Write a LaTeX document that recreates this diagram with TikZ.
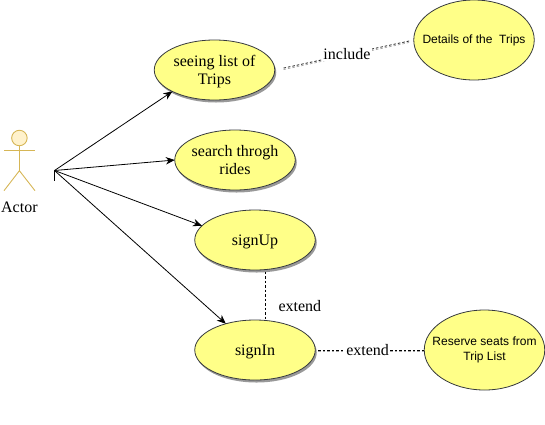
\documentclass[tikz,border=0pt]{standalone}
\usepackage{fontspec}
\setmainfont{Liberation Serif}
\newfontfamily\labelsans{Liberation Sans}
\usepackage{xcolor}
\usepackage{tikz}
\usetikzlibrary{shapes.geometric,arrows.meta,positioning,shadows}
\definecolor{casefill}{HTML}{FFFF88}
\definecolor{casedraw}{HTML}{36393D}
\definecolor{actorfill}{HTML}{FFF2CC}
\definecolor{actordraw}{HTML}{D6B656}

\begin{document}
\begin{tikzpicture}[
			x=1pt, y=1pt,
			usecase/.style={ellipse, draw=casedraw, fill=casefill, line width=0.8pt, inner xsep=-8pt, inner ysep=0pt, outer sep=0pt, minimum width=120.5pt, minimum height=60pt, align=center, font=\fontsize{16}{18.3}\selectfont},
			shadowcase/.style={usecase, text depth=0pt, general shadow={shadow xshift=1.5pt, shadow yshift=-2.5pt, fill=black!40}},
			sidecase/.style={usecase, inner xsep=-12pt, minimum height=80pt, font=\fontsize{12}{14.5}\selectfont\labelsans},
			arr/.style={-{Stealth[length=9pt, width=7.5pt]}, line width=0.8pt},
			limb/.style={draw=actordraw, line width=0.9pt},
			reldash/.style={dash pattern=on 2.5pt off 2pt, line width=0.7pt},
			dashrel/.style={reldash, preaction={draw=black!35, reldash, transform canvas={yshift=-1.5pt}}},
			tag/.style={inner sep=1pt, fill=white, font=\fontsize{16}{18}\selectfont}
			]
			\useasboundingbox (0,0) rectangle (545,-424);
			\node[shadowcase] (seeing) at (214.5,-70) {seeing list of\\Trips};
			\node[shadowcase, below=30pt of seeing, xshift=20.5pt] (search) {search throgh\\rides};
			\node[shadowcase, below=20pt of search, xshift=20pt] (signup) {signUp};
			\node[shadowcase, below=50pt of signup] (signin) {signIn};
			\node[sidecase, right=139pt of seeing, yshift=30pt] (details) {Details of the\ \ Trips};
			\node[sidecase, right=109pt of signin] (reserve) {Reserve seats from\\Trip List};
			\node[circle, draw=actordraw, fill=actorfill, line width=0.9pt, inner sep=0pt, minimum size=15.5pt] (head) at (19.4,-138) {};
			\coordinate (hip) at (19.4,-170.7);
			\coordinate (armL) at (4,-150.3);
			\coordinate (armR) at (35,-150.3);
			\coordinate (footL) at (4,-190.7);
			\coordinate (footR) at (35,-190.7);
			\draw[limb] (head.south) -- (hip);
			\draw[limb] (armL) -- (armR);
			\draw[limb] (footL) -- (hip) -- (footR);
			\node[font=\fontsize{16}{18}\selectfont, inner sep=0pt] (actor) at (19.4,-207) {Actor};
			\coordinate (hub) at (54.5,-170.5);
			\coordinate[below=10.5pt of hub] (stub);
			\draw[line width=0.8pt] (hub) -- (stub);
			\draw[arr] (hub) -- (seeing.207);
			\draw[arr] (hub) -- (search.west);
			\draw[arr] (hub) -- (signup.165.6);
			\draw[arr] (hub) -- (signin.138);
			\draw[dashrel, shorten <=9pt, shorten >=4pt] (seeing.east) -- node[tag, pos=.52] (inc) {include} (details.west);
			\draw[reldash, shorten <=2pt] (signup.-71) -- node[pos=.71, right=13pt, inner sep=0pt, font=\fontsize{16}{18}\selectfont] (extA) {extend} (signin.71);
			\draw[dashrel, shorten <=3pt] (signin.east) -- node[tag, pos=.48] (extB) {extend} (reserve.west);
		\end{tikzpicture}
\end{document}
